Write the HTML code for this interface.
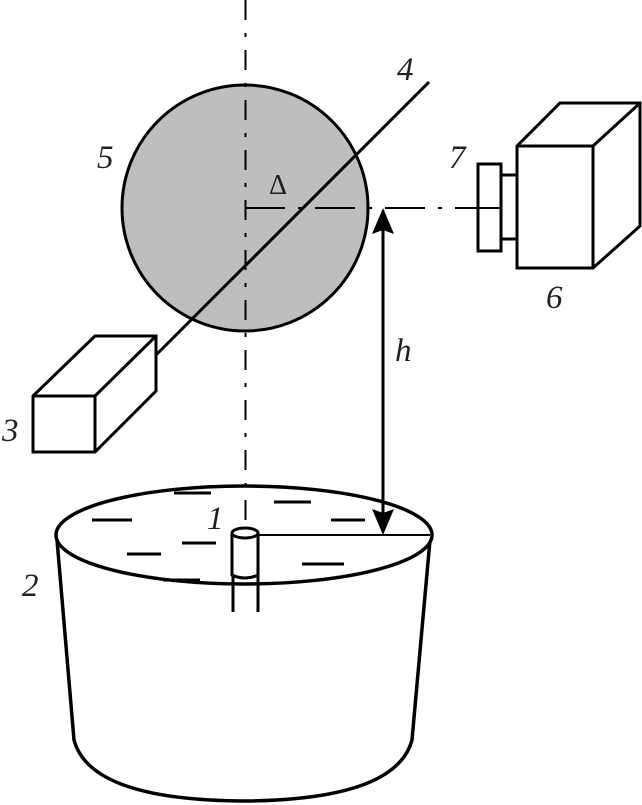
<!DOCTYPE html>
<html><head><meta charset="utf-8"><style>
html,body{margin:0;padding:0;background:#fff;width:642px;height:805px;overflow:hidden}
svg{display:block}
</style></head><body>
<svg width="642" height="805" viewBox="0 0 642 805" xmlns="http://www.w3.org/2000/svg">
<g fill="none" stroke="#000">
<circle cx="245" cy="208" r="123" fill="#bdbec0" stroke-width="3"/>
<line x1="245" y1="208" x2="500" y2="208" stroke-width="2" stroke-dasharray="40 13 4 13"/>
<line x1="429" y1="82" x2="155" y2="356" stroke-width="3"/>
<g stroke-width="3" fill="#fff">
<polygon points="33,396 95,336 156,336 156,391 95,452 33,452"/>
<polyline points="33,396 95,396 156,336"/>
<line x1="95" y1="396" x2="95" y2="452"/>
</g>
<g stroke-width="3" fill="#fff">
<polygon points="517,146 560,103 640,103 640,226 593,268 517,268"/>
<polyline points="517,146 593,146 640,103"/>
<line x1="593" y1="146" x2="593" y2="268"/>
<rect x="501" y="175" width="16" height="64"/>
<rect x="478" y="164" width="23" height="87"/>
</g>
<line x1="478" y1="208" x2="501" y2="208" stroke-width="2"/>
<path d="M57,540 L74,740 Q90,800 243,801 Q396,800 412,740 L430,540" stroke-width="3.5" fill="#fff"/>
<ellipse cx="244" cy="535" rx="188" ry="49" stroke-width="3.5" fill="#fff"/>
<line x1="245.5" y1="0" x2="245.5" y2="530" stroke-width="2" stroke-dasharray="20 13 4 13"/>
<g stroke-width="3">
<line x1="92" y1="520" x2="132" y2="520"/>
<line x1="174" y1="493" x2="211" y2="493"/>
<line x1="274" y1="502" x2="311" y2="502"/>
<line x1="331" y1="520" x2="365" y2="520"/>
<line x1="127" y1="554" x2="161" y2="554"/>
<line x1="182" y1="543" x2="216" y2="543"/>
<line x1="163" y1="580" x2="200" y2="580"/>
<line x1="302" y1="564" x2="344" y2="564"/>
</g>
<g stroke-width="3" fill="#fff">
<path d="M233,612 L233,575 M258,575 L258,612"/>
<path d="M232,533 L232,575 Q245,581 258,575 L258,533"/>
<ellipse cx="245" cy="533" rx="13" ry="5"/>
</g>
<line x1="258" y1="535" x2="430" y2="535" stroke-width="2"/>
<line x1="383" y1="228" x2="383" y2="515" stroke-width="3"/>
</g>
<polygon points="383,208 372,234 383,230 394,234" fill="#000"/>
<polygon points="383,535 372,509 383,513 394,509" fill="#000"/>
<g font-family="Liberation Serif, serif" font-style="italic" font-size="33" fill="#231f20">
<text x="397" y="80">4</text>
<text x="97" y="168">5</text>
<text x="449" y="168">7</text>
<text x="546" y="308">6</text>
<text x="395" y="361">h</text>
<text x="2" y="441">3</text>
<text x="207" y="529">1</text>
<text x="22" y="596">2</text>
<text x="269" y="194" font-style="normal" font-size="28">Δ</text>
</g>
</svg>
</body></html>
